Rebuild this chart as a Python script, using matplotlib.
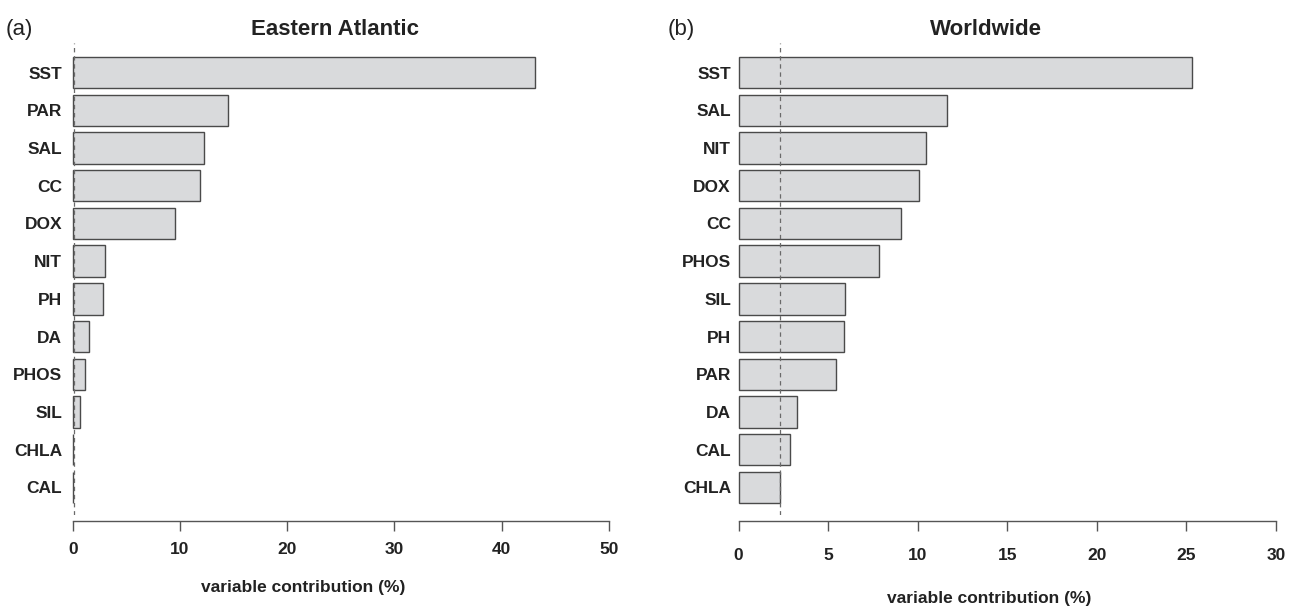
import matplotlib
matplotlib.use("Agg")
import matplotlib.pyplot as plt

plt.rcParams['font.family'] = ['Liberation Sans', 'DejaVu Sans']

# ---- data ----
ea_vars = ["SST", "PAR", "SAL", "CC", "DOX", "NIT", "PH", "DA", "PHOS", "SIL", "CHLA", "CAL"]
ea_vals = [43.1, 14.5, 12.2, 11.9, 9.5, 3.05, 2.85, 1.5, 1.15, 0.65, 0.02, 0.03]
ea_thresh = 0.08
ea_ticks = [0, 10, 20, 30, 40, 50]

ww_vars = ["SST", "SAL", "NIT", "DOX", "CC", "PHOS", "SIL", "PH", "PAR", "DA", "CAL", "CHLA"]
ww_vals = [25.3, 11.65, 10.45, 10.05, 9.05, 7.85, 5.95, 5.9, 5.45, 3.25, 2.9, 2.33]
ww_thresh = 2.33
ww_ticks = [0, 5, 10, 15, 20, 25, 30]

W, H = 1299, 608
fig = plt.figure(figsize=(W / 100, H / 100), dpi=100)

TXT = "#222222"
BAR_FC = "#d9dadc"
BAR_EC = "#4a4a4a"
AX_C = "#555555"


def px_axes(x0, x1, ytop, ybot):
    return fig.add_axes([x0 / W, 1 - ybot / H, (x1 - x0) / W, (ybot - ytop) / H])


def panel(ax, names, vals, thresh, ticks, ypad, xpad):
    for s in ["top", "right", "left"]:
        ax.spines[s].set_visible(False)
    ax.spines["bottom"].set_position(("outward", 4.3))
    ax.spines["bottom"].set_color(AX_C)
    ax.spines["bottom"].set_linewidth(1.0)
    ax.patch.set_visible(False)

    n = len(names)
    pos = [0.7 + 1.2 * (n - 1 - i) for i in range(n)]
    ax.barh(pos, vals, height=1.0, left=0, color=BAR_FC, edgecolor=BAR_EC,
            linewidth=1.0, clip_on=False, zorder=2)
    ax.axvline(thresh, color="#6a6a6a", linewidth=0.9, dashes=(3.5, 3.0), zorder=3)
    ax.set_xlim(ticks[0], ticks[-1])
    ax.set_ylim(-0.175, 14.84)
    ax.set_yticks(pos)
    ax.set_yticklabels(names, fontsize=12.5, fontweight="bold", color=TXT)
    ax.tick_params(axis="y", length=0, pad=ypad)
    ax.set_xticks(ticks)
    ax.set_xticklabels([str(t) for t in ticks], fontsize=12.5, fontweight="bold", color=TXT)
    ax.tick_params(axis="x", length=7, width=1.0, color=AX_C, pad=xpad, direction="out")


ax1 = px_axes(72.7, 609.0, 43, 515)
panel(ax1, ea_vars, ea_vals, ea_thresh, ea_ticks, ypad=7.7, xpad=8)

ax2 = px_axes(738.5, 1276.0, 43, 515)
panel(ax2, ww_vars, ww_vals, ww_thresh, ww_ticks, ypad=5.4, xpad=12.5)


def ftext(x, y, s, **kw):
    fig.text(x / W, 1 - y / H, s, color=TXT, **kw)


ftext(6, 35, "(a)", fontsize=16, ha="left", va="baseline")
ftext(335, 35, "Eastern Atlantic", fontsize=16, fontweight="bold", ha="center", va="baseline")
ftext(668, 35, "(b)", fontsize=16, ha="left", va="baseline")
ftext(986, 35, "Worldwide", fontsize=16, fontweight="bold", ha="center", va="baseline")

ftext(303, 592, "variable contribution (%)", fontsize=12.5, fontweight="bold", ha="center", va="baseline")
ftext(989, 603, "variable contribution (%)", fontsize=12.5, fontweight="bold", ha="center", va="baseline")

fig.savefig("out.png", dpi=100, facecolor="white")
